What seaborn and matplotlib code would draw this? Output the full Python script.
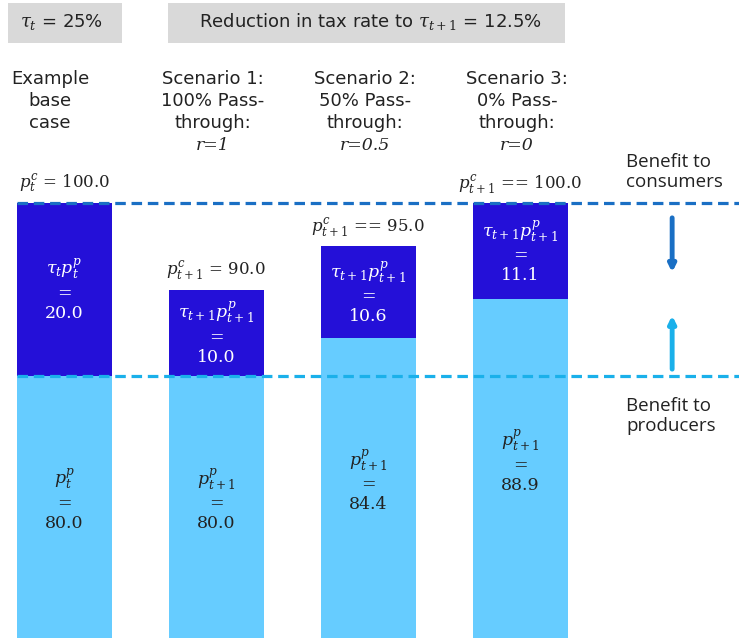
import matplotlib
matplotlib.use("Agg")
import matplotlib.pyplot as plt
import pandas as pd
import seaborn as sns
from matplotlib.patches import Rectangle

# Data
scenarios = ["Example base case", "Scenario 1", "Scenario 2", "Scenario 3"]
consumer_price = [100.0, 90.0, 95.0, 100.0]
producer_price = [80.0, 80.0, 84.4, 88.9]
tax_amount = [20.0, 10.0, 10.6, 11.1]
headers = ["Example\nbase\ncase", "Scenario 1:\n100% Pass-\nthrough:",
           "Scenario 2:\n50% Pass-\nthrough:", "Scenario 3:\n0% Pass-\nthrough:"]
pass_through = ["", "r=1", "r=0.5", "r=0"]
top_labels = [r"$p_t^c$ = 100.0", r"$p_{t+1}^c$ = 90.0",
              r"$p_{t+1}^c$ == 95.0", r"$p_{t+1}^c$ == 100.0"]
tax_labels = [r"$\tau_t p_t^p$", r"$\tau_{t+1}p_{t+1}^p$",
              r"$\tau_{t+1}p_{t+1}^p$", r"$\tau_{t+1}p_{t+1}^p$"]
prod_labels = [r"$p_t^p$", r"$p_{t+1}^p$", r"$p_{t+1}^p$", r"$p_{t+1}^p$"]

df = pd.DataFrame({"scenario": scenarios, "consumer": consumer_price,
                   "producer": producer_price, "tax": tax_amount})

dark = "#2410d8"
light = "#66ccff"
line_dark = "#1a6fc4"
line_light = "#1ab0ea"

sns.set_style("white")
plt.rcParams["mathtext.fontset"] = "dejavuserif"

W, H = 739, 638
fig = plt.figure(figsize=(W / 100, H / 100), dpi=100)
ax = fig.add_axes([0, 0, 1, 1])


def px(x, y):
    return x / W, 1 - y / H


# Stacked bars: total consumer price (tax on top), producer price below
sns.barplot(data=df, x="scenario", y="consumer", color=dark, width=0.625,
            saturation=1, linewidth=0, ax=ax, order=scenarios)
sns.barplot(data=df, x="scenario", y="producer", color=light, width=0.625,
            saturation=1, linewidth=0, ax=ax, order=scenarios)

ylo, yhi = 49.7, 123.5
ax.set_xlim(-0.424, 4.44)
ax.set_ylim(ylo, yhi)
ax.axis("off")

# Dashed reference lines
ax.hlines(consumer_price[0], -0.3125, 5, colors=line_dark, lw=2.3,
          linestyles=(0, (3.3, 1.8)), zorder=5)
ax.hlines(producer_price[0], -0.3125, 5, colors=line_light, lw=2.3,
          linestyles=(0, (3.3, 1.8)), zorder=5)

serif = "DejaVu Serif"
for i in range(len(scenarios)):
    c, p, t = consumer_price[i], producer_price[i], tax_amount[i]
    ax.text(i, c + 2.2, top_labels[i], ha="center", va="center",
            fontsize=12, family=serif, color="#222222")
    ax.text(i, (c + p) / 2, f"{tax_labels[i]}\n=\n{t:.1f}", ha="center",
            va="center", fontsize=12.5, family=serif, color="white",
            linespacing=1.25)
    ax.text(i, (ylo + p) / 2 + 0.9, f"{prod_labels[i]}\n=\n{p:.1f}", ha="center",
            va="center", fontsize=12.5, family=serif, color="#222222",
            linespacing=1.25)

# Column headers
header_x = [50, 213, 365, 517]
for i in range(len(scenarios)):
    fig.text(*px(header_x[i], 70), headers[i], ha="center", va="top",
             fontsize=13, color="#222222", linespacing=1.3)
    if pass_through[i]:
        fig.text(*px(header_x[i], 146), pass_through[i], ha="center",
                 va="center", fontsize=12.5, family=serif, style="italic",
                 color="#222222")

# Grey boxes on top
fig.patches.append(Rectangle(px(8, 43), 114 / W, 40 / H, facecolor="#d9d9d9",
                             edgecolor="none", transform=fig.transFigure))
fig.patches.append(Rectangle(px(168, 43), 397 / W, 40 / H, facecolor="#d9d9d9",
                             edgecolor="none", transform=fig.transFigure))
fig.text(*px(62, 22), r"$\tau_t$ = 25%", ha="center", va="center",
         fontsize=13, color="#222222")
fig.text(*px(370, 22), r"Reduction in tax rate to $\tau_{t+1}$ = 12.5%",
         ha="center", va="center", fontsize=13, color="#222222")

# Benefit annotations
fig.text(*px(626, 172), "Benefit to\nconsumers", ha="left", va="center",
         fontsize=13.5, family="Open Sans", color="#222222", linespacing=1.2)
fig.text(*px(626, 416), "Benefit to\nproducers", ha="left", va="center",
         fontsize=13.5, family="Open Sans", color="#222222", linespacing=1.2)

ax.annotate("", xy=(4.0, 92.0), xytext=(4.0, 98.3),
            arrowprops=dict(arrowstyle="-|>", lw=3.5, color=line_dark,
                            mutation_scale=10, shrinkA=0, shrinkB=0))
ax.annotate("", xy=(4.0, 87.0), xytext=(4.0, 80.8),
            arrowprops=dict(arrowstyle="-|>", lw=3.5, color=line_light,
                            mutation_scale=10, shrinkA=0, shrinkB=0))

fig.savefig("out.png", dpi=100)
